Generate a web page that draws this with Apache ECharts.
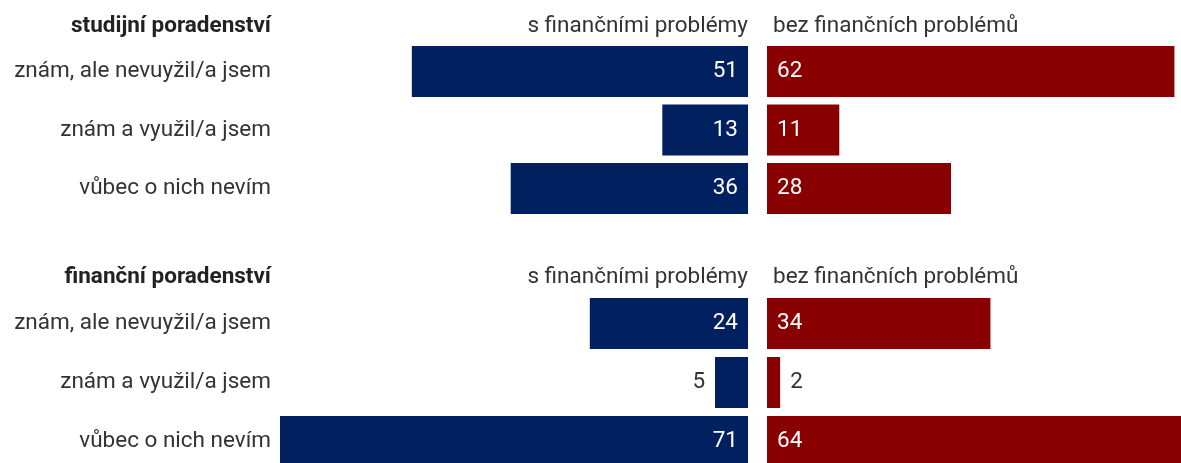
<!DOCTYPE html>
<html>
<head>
<meta charset="utf-8">
<script src="https://cdn.jsdelivr.net/npm/echarts@6/dist/echarts.min.js"></script>
<style>
  html, body { margin: 0; padding: 0; background: #fff; }
  #chart { width: 1181px; height: 463px; }
</style>
</head>
<body>
<div id="chart"></div>
<script>
const categories = ["znám, ale nevuyžil/a jsem", "znám a využil/a jsem", "vůbec o nich nevím"];
const sections = ["studijní poradenství", "finanční poradenství"];
const groups = ["s finančními problémy", "bez finančních problémů"];

const studyWith = [51, 13, 36];
const studyWithout = [62, 11, 28];
const financeWith = [24, 5, 71];
const financeWithout = [34, 2, 64];

const navy = "#00205f";
const red = "#880000";
const font = "Roboto";
const fontSize = 22.5;

// values too small to hold a label inside the bar
const smallLimit = 8;

// category axes use boundaryGap:false, so the grid spans first..last row centre
const grids = [
  { left: 280, width: 468, top: 71.5, height: 117 },
  { left: 767, right: 0, top: 71.5, height: 117 },
  { left: 280, width: 468, top: 323.5, height: 118 },
  { left: 767, right: 0, top: 323.5, height: 118 }
];
const axisMax = [71, 63, 71, 63];

function barData(values, isLeft) {
  return values.map(v => {
    const small = v < smallLimit;
    return {
      value: v,
      label: {
        position: small ? (isLeft ? "left" : "right") : (isLeft ? "insideRight" : "insideLeft"),
        color: small ? "#333" : "#fff"
      }
    };
  });
}

const series = [studyWith, studyWithout, financeWith, financeWithout].map((vals, i) => {
  const isLeft = i % 2 === 0;
  return {
    type: "bar",
    xAxisIndex: i,
    yAxisIndex: i,
    barWidth: 51,
    clip: false,
    itemStyle: { color: isLeft ? navy : red },
    label: {
      show: true,
      fontFamily: font,
      fontSize: fontSize,
      distance: 10
    },
    data: barData(vals, isLeft)
  };
});

const headerText = [];
[25, 276].forEach((y, s) => {
  headerText.push({
    type: "text", right: 1181 - 271, top: y - 10,
    style: { text: sections[s], font: "bold " + fontSize + "px " + font, fill: "#222", textAlign: "right" }
  });
  headerText.push({
    type: "text", right: 1181 - 748, top: y - 10,
    style: { text: groups[0], font: fontSize + "px " + font, fill: "#333", textAlign: "right" }
  });
  headerText.push({
    type: "text", left: 773, top: y - 10,
    style: { text: groups[1], font: fontSize + "px " + font, fill: "#333" }
  });
});

const chart = echarts.init(document.getElementById("chart"));
chart.setOption({
  animation: false,
  grid: grids,
  xAxis: grids.map((g, i) => ({
    type: "value",
    gridIndex: i,
    min: 0,
    max: axisMax[i],
    inverse: i % 2 === 0,
    show: false
  })),
  yAxis: grids.map((g, i) => ({
    type: "category",
    gridIndex: i,
    data: categories,
    inverse: true,
    boundaryGap: false,
    position: "left",
    axisLine: { show: false },
    axisTick: { show: false },
    splitLine: { show: false },
    axisLabel: {
      show: i % 2 === 0,
      fontFamily: font,
      fontSize: fontSize,
      color: "#333",
      margin: 9
    }
  })),
  graphic: headerText,
  series: series
});
</script>
</body>
</html>
